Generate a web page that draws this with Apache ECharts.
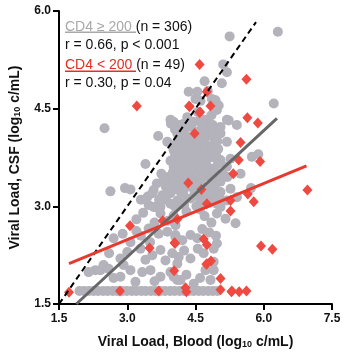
<!DOCTYPE html>
<html>
<head>
<meta charset="utf-8">
<script src="https://cdn.jsdelivr.net/npm/echarts@6/dist/echarts.min.js"></script>
<style>
html,body{margin:0;padding:0;background:#fff;}
#chart{width:348px;height:358px;}
</style>
</head>
<body>
<div id="chart"></div>
<script>
// Axis ticks
var xTicks = [1.5, 3.0, 4.5, 6.0, 7.5];
var yTicks = [1.5, 3.0, 4.5, 6.0];

// CD4 >= 200 (gray circles) [blood, csf]
var cd4High = [
  [5.25,5.61],[6.31,5.68],[5.11,5.18],[5.19,5.06],[5.08,4.89],[4.70,4.92],[4.35,4.76],[4.54,4.76],
  [4.77,4.77],[4.61,4.62],[4.86,4.65],[4.94,4.63],[5.01,4.55],[4.97,4.48],[6.22,4.58],[4.50,4.65],
  [3.95,4.33],[4.32,4.37],[4.61,4.35],[4.75,4.33],[5.19,4.33],[4.02,4.30],[4.24,4.27],[4.68,4.25],
  [5.05,4.22],[5.23,4.32],[5.41,4.25],[3.96,4.27],[2.50,4.20],[4.45,4.30],[4.85,4.40],[4.55,4.45],
  [3.68,4.08],[4.13,4.04],[4.10,4.12],[4.24,4.17],[4.39,4.01],[4.75,4.09],[4.75,4.19],[5.05,4.12],
  [4.97,4.12],[4.55,4.15],[4.90,4.05],[3.88,3.99],[4.60,4.05],[4.30,4.08],
  [4.13,3.81],[4.02,3.86],[4.24,3.96],[4.61,3.91],[4.90,3.94],[5.19,3.99],[4.46,3.85],[4.75,3.81],
  [4.35,3.90],[4.05,3.95],[4.80,3.92],[4.20,3.84],[4.55,3.82],[5.00,3.88],
  [3.40,3.65],[4.17,3.76],[4.46,3.78],[4.75,3.72],[5.05,3.71],[5.27,3.73],[5.74,3.76],[5.88,3.80],
  [4.02,3.61],[4.32,3.66],[4.61,3.63],[4.90,3.58],[5.19,3.61],[4.10,3.68],[4.60,3.72],[4.90,3.75],
  [3.95,3.70],[4.40,3.70],
  [3.75,3.50],[4.10,3.55],[4.10,3.45],[4.39,3.48],[4.68,3.45],[4.97,3.43],[5.49,3.50],[4.25,3.55],
  [4.55,3.55],[4.80,3.50],[5.10,3.50],[3.90,3.45],[4.00,3.52],[4.50,3.40],[5.20,3.45],
  [2.63,3.23],[2.95,3.28],[3.07,3.26],[3.58,3.25],[3.99,3.37],[3.95,3.20],[4.02,3.30],[4.24,3.25],
  [4.54,3.32],[4.83,3.30],[5.05,3.22],[5.27,3.27],[3.45,3.15],[3.77,3.17],[4.15,3.35],[4.40,3.30],
  [4.70,3.25],[4.95,3.35],[3.85,3.30],[5.72,3.28],
  [4.10,3.09],[4.39,3.12],[4.68,3.07],[4.97,3.04],[5.19,3.09],[5.41,3.14],[3.47,3.02],[3.62,2.99],
  [3.95,3.04],[3.73,2.99],[4.02,3.02],[4.06,2.99],[4.25,3.15],[4.55,3.18],[4.85,3.15],[3.58,2.99],
  [3.30,3.10],[5.05,2.99],[3.85,3.10],
  [3.73,2.89],[4.02,2.86],[4.97,2.89],[5.16,2.81],[5.38,2.74],[4.06,2.71],[3.47,2.66],[3.20,2.80],
  [3.35,2.90],[4.70,2.85],[4.85,2.75],[3.90,2.78],[3.60,2.75],[4.60,2.95],[4.30,2.92],
  [3.69,2.58],[3.88,2.61],[4.06,2.53],[2.70,2.51],[3.07,2.45],[4.06,2.56],[4.21,2.48],[4.39,2.56],
  [4.54,2.51],[4.97,2.43],[4.90,2.35],[3.30,2.55],[3.50,2.45],[4.80,2.60],[4.95,2.55],[3.20,2.62],
  [2.90,2.58],[4.65,2.65],
  [3.29,2.35],[3.55,2.25],[3.73,2.33],[3.84,2.17],[3.99,2.28],[4.10,2.12],[4.13,2.22],[4.39,2.20],
  [4.68,2.28],[4.90,2.15],[3.00,2.30],[2.85,2.20],[3.40,2.18],[4.55,2.35],[4.25,2.32],[2.60,2.28],
  [2.48,2.10],[2.30,2.02],[2.15,1.99],[2.41,2.02],[2.59,2.04],[2.92,2.10],[3.07,2.02],[2.85,1.92],
  [3.33,1.99],[3.51,2.02],[3.73,1.92],[3.95,1.99],[4.10,1.87],[3.18,1.84],[4.72,2.02],[4.90,2.02],
  [4.02,1.92],[4.17,1.87],[4.46,1.81],[4.83,1.87],[3.60,1.85],[4.30,1.95],[2.70,1.90],[4.60,1.90],
  [1.95,1.70],[2.05,1.70],[2.16,1.70],[2.26,1.70],[2.36,1.70],[2.47,1.70],[2.57,1.70],[2.68,1.70],
  [2.78,1.70],[2.89,1.70],[2.99,1.70],[3.10,1.70],[3.20,1.70],[3.31,1.70],[3.41,1.70],[3.52,1.70],
  [3.62,1.70],[3.73,1.70],[3.83,1.70],[3.94,1.70],[4.04,1.70],[4.15,1.70],[4.25,1.70],[4.36,1.70],
  [4.46,1.70],[4.57,1.70],[4.67,1.70],[4.78,1.70],[4.88,1.70],[4.98,1.70],
  [4.15,4.25],[4.40,4.22],[4.62,4.28],[4.88,4.25],[4.05,4.18],[4.50,4.08],[4.68,4.12],[4.85,4.20],
  [4.18,4.05],[4.42,3.98],[4.70,3.98],[4.98,4.00],[4.12,3.92],[4.50,3.92],[4.68,3.88],[4.85,3.85],
  [4.30,3.80],[4.62,3.80],[4.95,3.80],[4.05,3.78],[4.25,3.70],[4.50,3.65],[4.75,3.62],[5.00,3.65],
  [4.18,3.60],[4.40,3.58],[4.70,3.55],[4.95,3.52],[4.15,3.48],[4.30,3.42],[4.60,3.45],[4.85,3.42],
  [5.05,3.38],[4.08,3.38],[4.35,3.35],[4.62,3.35],[4.90,3.25],[4.20,3.18],[4.48,3.22],[4.75,3.18],
  [5.02,3.15],[4.12,3.25],[4.60,3.10],[4.80,3.05],[4.25,3.02],[4.52,3.00],
  [3.65,3.35],[3.80,3.40],[3.70,3.10],[3.55,3.20],[3.88,3.22]
];

// CD4 < 200 (red diamonds) [blood, csf]
var cd4Low = [
  [4.59,5.18],[5.62,4.95],[3.21,4.54],[4.36,4.54],[4.59,4.44],[4.83,4.54],[4.75,4.76],[5.64,4.36],
  [5.87,4.28],[4.48,4.12],[5.49,3.98],[5.45,3.71],[5.92,3.69],[5.33,3.50],[4.34,3.36],[4.63,3.26],
  [6.96,3.25],[5.27,3.09],[5.65,3.19],[5.78,3.07],[4.75,3.04],[3.06,2.70],[3.78,2.78],[4.10,2.80],
  [3.49,2.36],[4.04,2.44],[4.03,2.01],[2.84,1.70],[3.69,1.70],[4.30,1.69],[1.72,1.68],[5.27,2.93],
  [4.68,2.50],[4.75,2.41],[5.94,2.39],[6.19,2.34],[4.84,2.16],[4.74,2.11],[5.05,1.89],[4.28,1.75],
  [5.05,1.72],[5.29,1.69],[5.46,1.69],[5.62,1.70],[4.37,4.53],[4.60,4.45],[5.30,1.70],[4.05,2.43],
  [4.75,2.12]
];

// Lines
var identityLine = [[1.5,1.5],[5.83,5.83]];
var fitHigh = [[1.88,1.5],[6.29,4.35]];
var fitLow = [[1.72,2.12],[6.94,3.62]];

var FONT = 'Liberation Sans';
var chart = echarts.init(document.getElementById('chart'), null, {renderer:'canvas'});
chart.setOption({
  animation: false,
  backgroundColor: '#fff',
  grid: {left: 58, right: 16, top: 11, bottom: 54, containLabel: false},
  xAxis: {
    type: 'value', min: xTicks[0], max: xTicks[xTicks.length-1], interval: 1.5,
    name: 'Viral Load, Blood (log{sub|10} c/mL)', nameLocation: 'middle', nameGap: 31,
    nameTextStyle: {fontSize: 14, fontWeight: 'bold', fontFamily: FONT, color: '#111',
      rich: {sub: {fontSize: 9, fontWeight: 'bold', fontFamily: FONT, color: '#111', verticalAlign: 'bottom'}}},
    axisLine: {lineStyle: {color: '#000', width: 2}},
    axisTick: {length: 6, lineStyle: {color: '#000', width: 2}},
    axisLabel: {fontSize: 12, fontWeight: 'bold', fontFamily: FONT, color: '#111', margin: 9,
      formatter: function(v){ return v.toFixed(1); }},
    splitLine: {show: false}
  },
  yAxis: {
    type: 'value', min: yTicks[0], max: yTicks[yTicks.length-1], interval: 1.5,
    name: 'Viral Load, CSF (log{sub|10} c/mL)', nameLocation: 'middle', nameGap: 37,
    nameTextStyle: {fontSize: 14, fontWeight: 'bold', fontFamily: FONT, color: '#111',
      rich: {sub: {fontSize: 9, fontWeight: 'bold', fontFamily: FONT, color: '#111', verticalAlign: 'bottom'}}},
    axisLine: {lineStyle: {color: '#000', width: 2}},
    axisTick: {length: 6, lineStyle: {color: '#000', width: 2}},
    axisLabel: {fontSize: 12, fontWeight: 'bold', fontFamily: FONT, color: '#111', margin: 8,
      formatter: function(v){ return v.toFixed(1); }},
    splitLine: {show: false}
  },
  series: [
    {type: 'scatter', data: cd4High, symbol: 'circle', symbolSize: 10, z: 2,
     itemStyle: {color: '#b4b2ba', opacity: 1}},
    {type: 'scatter', data: cd4Low, symbol: 'diamond', symbolSize: [10, 11], z: 3,
     itemStyle: {color: '#ee4a42', opacity: 1}},
    {type: 'line', data: identityLine, symbol: 'none', z: 4, silent: true,
     lineStyle: {color: '#000', width: 2, type: [6, 4]}},
    {type: 'line', data: fitHigh, symbol: 'none', z: 5, silent: true,
     lineStyle: {color: '#676767', width: 3}},
    {type: 'line', data: fitLow, symbol: 'none', z: 5, silent: true,
     lineStyle: {color: '#e8392f', width: 3}}
  ],
  graphic: [
    {type: 'text', x: 65, y: 27, z: 10, style: {
      text: '{g|CD4 ≥ 200} (n = 306)', fill: '#111', fontSize: 14, fontFamily: FONT, verticalAlign: 'middle',
      rich: {g: {fill: '#a8a8a8', fontSize: 14, fontFamily: FONT}}}},
    {type: 'rect', z: 10, shape: {x: 65, y: 31.5, width: 71, height: 1.5}, style: {fill: '#a8a8a8'}},
    {type: 'text', x: 65, y: 45, z: 10, style: {
      text: 'r = 0.66, p < 0.001', fill: '#111', fontSize: 14, fontFamily: FONT, verticalAlign: 'middle'}},
    {type: 'text', x: 65, y: 65.5, z: 10, style: {
      text: '{r|CD4 < 200} (n = 49)', fill: '#111', fontSize: 14, fontFamily: FONT, verticalAlign: 'middle',
      rich: {r: {fill: '#e42e27', fontSize: 14, fontFamily: FONT}}}},
    {type: 'rect', z: 10, shape: {x: 65, y: 70.5, width: 71, height: 1.5}, style: {fill: '#e42e27'}},
    {type: 'text', x: 65, y: 83.5, z: 10, style: {
      text: 'r = 0.30, p = 0.04', fill: '#111', fontSize: 14, fontFamily: FONT, verticalAlign: 'middle'}}
  ]
});
</script>
</body>
</html>
